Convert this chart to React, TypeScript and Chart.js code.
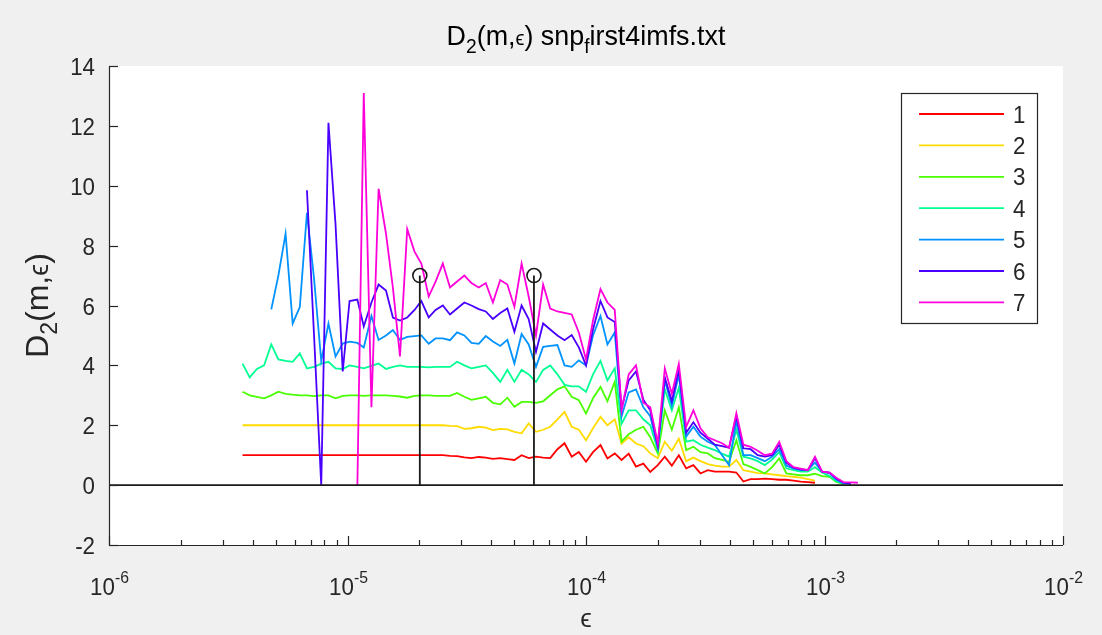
import React, { useEffect, useRef } from "react";
import { Chart, registerables } from "chart.js";

Chart.register(...registerables);

// Neighbourhood radius grid (epsilon), shared by every embedding dimension.
const EPSILON = [
  3.63e-6, 3.89e-6, 4.17e-6, 4.47e-6, 4.79e-6, 5.13e-6, 5.5e-6, 5.89e-6, 6.31e-6, 6.76e-6,
  7.24e-6, 7.76e-6, 8.32e-6, 8.91e-6, 9.55e-6, 1.02e-5, 1.1e-5, 1.17e-5, 1.26e-5, 1.35e-5,
  1.45e-5, 1.55e-5, 1.66e-5, 1.78e-5, 1.91e-5, 2.04e-5, 2.19e-5, 2.34e-5, 2.51e-5, 2.69e-5,
  2.88e-5, 3.09e-5, 3.31e-5, 3.55e-5, 3.8e-5, 4.07e-5, 4.37e-5, 4.68e-5, 5.01e-5, 5.37e-5,
  5.75e-5, 6.17e-5, 6.61e-5, 7.08e-5, 7.59e-5, 8.13e-5, 8.71e-5, 9.33e-5, 1.0e-4, 1.07e-4,
  1.15e-4, 1.23e-4, 1.32e-4, 1.41e-4, 1.51e-4, 1.62e-4, 1.74e-4, 1.86e-4, 2.0e-4, 2.14e-4,
  2.29e-4, 2.45e-4, 2.63e-4, 2.82e-4, 3.02e-4, 3.24e-4, 3.47e-4, 3.72e-4, 3.98e-4, 4.27e-4,
  4.57e-4, 4.9e-4, 5.25e-4, 5.62e-4, 6.03e-4, 6.46e-4, 6.92e-4, 7.41e-4, 7.94e-4, 8.51e-4,
  9.12e-4, 9.77e-4, 1.05e-3, 1.12e-3, 1.2e-3, 1.29e-3, 1.38e-3,
];

// Local slopes D2(m, eps) for m = 1..7 (null where no estimate exists).
const D2_M1 = [
  1, 1, 1, 1, 1, 1, 1, 1, 1, 1,
  1, 1, 1, 1, 1, 1, 1, 1, 1, 1,
  1, 1, 1, 1, 1, 1, 1, 1, 1, 0.98,
  0.97, 0.93, 0.9, 0.94, 0.92, 0.88, 0.9, 0.87, 0.84, 1.0,
  0.9, 0.95, 0.92, 0.9, 1.2, 1.4, 0.95, 1.11, 0.78, 1.1,
  1.34, 0.89, 1.06, 0.84, 1.05, 0.62, 0.72, 0.44, 0.67, 0.95,
  0.65, 1.0, 0.56, 0.67, 0.39, 0.5, 0.45, 0.45, 0.45, 0.42,
  0.12, 0.2, 0.2, 0.22, 0.2, 0.18, 0.18, 0.15, 0.12, 0.1,
  0.08, null, null, null, null, null, null,
];
const D2_M2 = [
  2, 2, 2, 2, 2, 2, 2, 2, 2, 2,
  2, 2, 2, 2, 2, 2, 2, 2, 2, 2,
  2, 2, 2, 2, 2, 2, 2, 2, 2, 1.98,
  1.97, 1.88, 1.9, 1.95, 1.92, 1.84, 1.88, 1.86, 1.78, 1.73,
  2.06, 1.78, 1.85, 1.95, 2.2, 2.45, 1.95, 1.85, 1.5, 1.9,
  2.28, 2.0, 2.2, 1.39, 1.6, 1.39, 1.3, 1.06, 0.9, 1.45,
  1.15, 1.55, 0.8, 0.92, 0.8, 0.7, 0.65, 0.62, 0.62, 0.84,
  0.5, 0.45, 0.4, 0.39, 0.36, 0.33, 0.3, 0.28, 0.25, 0.2,
  0.15, null, null, null, null, null, null,
];
const D2_M3 = [
  3.12, 3.0, 2.95, 2.9, 3.0, 3.12, 3.05, 3.02, 3.0, 3.0,
  2.97, 3.0, 3.0, 2.9, 2.98, 3.0, 3.0, 2.98, 3.0, 3.0,
  3.0, 2.98, 2.96, 2.92, 2.98, 3.0, 3.0, 2.98, 2.98, 2.98,
  3.08, 2.95, 2.85, 2.9, 2.95, 2.75, 2.7, 2.92, 2.62, 2.78,
  2.78, 2.75, 2.8, 3.0, 3.2, 3.3, 2.95, 2.84, 2.39, 2.9,
  3.28, 2.8, 3.45, 1.45, 1.7, 1.85, 1.95, 1.6, 1.06, 2.5,
  1.85, 2.6, 1.17, 1.28, 1.1, 1.06, 0.9, 0.84, 0.78, 1.5,
  0.7, 0.61, 0.5, 0.39, 0.6, 0.89, 0.39, 0.36, 0.33, 0.33,
  0.38, 0.3, 0.28, 0.11, 0.04, null, null,
];
const D2_M4 = [
  4.06, 3.6, 3.88, 4.0, 4.7, 4.2, 4.15, 4.12, 4.4, 3.9,
  3.95, 4.06, 4.12, 3.9, 3.88, 4.0, 3.95, 3.9, 3.98, 4.06,
  3.88, 3.95, 4.0, 3.95, 3.95, 3.95, 3.93, 3.95, 3.95, 3.95,
  4.12, 4.0, 3.9, 3.95, 4.0, 3.75, 3.45, 3.85, 3.45, 3.85,
  3.7, 3.45, 3.85, 4.0, 3.7, 3.35, 3.3, 3.3, 3.12, 3.7,
  4.15, 3.5, 3.9, 2.05, 2.5, 2.5, 2.2, 2.0, 1.17, 3.2,
  2.5, 3.25, 1.45, 1.5, 1.35, 1.25, 1.17, 1.05, 0.95, 1.85,
  0.95, 0.89, 0.8, 0.67, 0.85, 1.1, 0.56, 0.5, 0.45, 0.45,
  0.6, 0.42, 0.3, 0.13, 0.05, null, null,
];
const D2_M5 = [
  null, null, null, null, 5.87, 7.0, 8.4, 5.4, 5.95, 9.1,
  6.9, 4.15, 5.4, 4.3, 4.73, 4.79, 4.75, 4.6, 5.65, 4.85,
  5.0, 5.18, 4.85, 4.95, 4.98, 5.0, 4.72, 4.9, 4.9, 4.84,
  5.1, 5.0, 4.75, 4.72, 4.98, 4.8, 4.65, 4.85, 4.06, 5.05,
  4.7, 3.95, 4.62, 4.65, 4.68, 4.0, 3.95, 4.17, 4.0, 5.0,
  5.65, 4.7, 5.1, 2.3, 3.1, 3.2, 2.6, 2.3, 1.25, 3.5,
  2.65, 3.7, 1.62, 1.95, 1.62, 1.45, 1.34, 1.0, 0.67, 2.15,
  1.0, 1.0, 0.9, 0.8, 0.95, 1.2, 0.65, 0.55, 0.5, 0.5,
  0.75, 0.45, 0.4, 0.18, 0.06, 0.04, null,
];
const D2_M6 = [
  null, null, null, null, null, null, null, null, null, 9.85,
  5.0, 0.0, 12.1, 8.7, 3.8, 6.15, 6.2, 5.3, 6.1, 6.7,
  6.5, 5.6, 5.5, 5.6, 5.85, 6.15, 5.6, 5.85, 6.0, 5.7,
  5.9, 6.1, 6.0, 5.88, 5.8, 5.55, 5.75, 5.9, 5.12, 6.0,
  5.55, 4.45, 5.4, 5.2, 5.0, 4.84, 5.01, 4.6, 4.0, 5.2,
  6.15, 5.6, 5.45, 2.55, 3.5, 3.8, 2.85, 2.5, 1.3, 3.6,
  2.8, 3.85, 1.75, 2.1, 1.75, 1.55, 1.35, 1.3, 1.25, 2.3,
  1.23, 1.2, 1.0, 0.95, 1.0, 1.35, 0.75, 0.58, 0.53, 0.5,
  0.9, 0.45, 0.42, 0.22, 0.08, 0.06, null,
];
const D2_M7 = [
  null, null, null, null, null, null, null, null, null, null,
  null, null, null, null, null, null, 0.0, 13.1, 2.6, 9.9,
  8.4, 6.6, 4.3, 8.55, 7.8, 7.4, 6.3, 6.8, 7.4, 6.6,
  6.8, 7.0, 6.75, 6.6, 6.75, 6.1, 6.85, 6.7, 5.95, 7.4,
  6.3, 5.0, 6.7, 5.9, 5.8, 5.75, 5.7, 5.1, 4.2, 5.5,
  6.55, 6.1, 5.85, 2.5, 3.7, 4.0, 2.75, 2.6, 1.4, 3.9,
  3.05, 4.05, 1.95, 2.5, 1.9, 1.6, 1.5, 1.4, 1.25, 2.4,
  1.35, 1.28, 1.15, 1.0, 1.05, 1.45, 0.8, 0.6, 0.55, 0.5,
  0.95, 0.45, 0.42, 0.25, 0.1, 0.09, 0.08,
];

const SERIES = [D2_M1, D2_M2, D2_M3, D2_M4, D2_M5, D2_M6, D2_M7];
const SERIES_LABELS = ["1", "2", "3", "4", "5", "6", "7"];
const SERIES_COLORS = ["#FF0000", "#FFDB00", "#49FF00", "#00FF92", "#0092FF", "#4900FF", "#FF00DB"];

// Plateau estimates marked with stems.
const STEM_EPSILON = [2.01e-5, 6.05e-5];
const STEM_D2 = [7.0, 7.0];

const X_MIN = 1e-6;
const X_MAX = 1e-2;
const Y_MIN = -2;
const Y_MAX = 14;
const Y_TICKS = [-2, 0, 2, 4, 6, 8, 10, 12, 14];
const X_DECADES = [-6, -5, -4, -3, -2];

const FONT = '"Liberation Sans", Arial, Helvetica, sans-serif';
const INK = "#262626";

type Part = { text: string; size: number; shift?: number };

// Draws a run of text pieces (for sub/superscripts), optionally narrowed horizontally.
function drawParts(
  ctx: CanvasRenderingContext2D,
  parts: Part[],
  x: number,
  y: number,
  align: "left" | "center" | "right",
  sx = 1
) {
  const widths = parts.map((p) => {
    ctx.font = `${p.size}px ${FONT}`;
    return ctx.measureText(p.text).width * sx;
  });
  const total = widths.reduce((a, b) => a + b, 0);
  let cx = align === "center" ? x - total / 2 : align === "right" ? x - total : x;
  ctx.textAlign = "left";
  ctx.textBaseline = "alphabetic";
  parts.forEach((p, i) => {
    ctx.font = `${p.size}px ${FONT}`;
    ctx.save();
    ctx.translate(cx, y + (p.shift || 0));
    ctx.scale(sx, 1);
    ctx.fillText(p.text, 0, 0);
    ctx.restore();
    cx += widths[i];
  });
}

const axesPlugin = {
  id: "matlabAxes",
  beforeDraw(chart: any) {
    const { ctx, chartArea: a, width, height } = chart;
    ctx.save();
    ctx.fillStyle = "#F0F0F0";
    ctx.fillRect(0, 0, width, height);
    ctx.fillStyle = "#FFFFFF";
    ctx.fillRect(a.left, a.top, a.right - a.left, a.bottom - a.top);
    ctx.restore();
  },
  afterDraw(chart: any) {
    const { ctx, chartArea: a } = chart;
    const xs = chart.scales.x;
    const ys = chart.scales.y;
    ctx.save();
    ctx.strokeStyle = INK;
    ctx.fillStyle = INK;
    ctx.lineWidth = 1.2;

    // axis lines (box off: left and bottom only)
    ctx.beginPath();
    ctx.moveTo(a.left + 0.5, a.top);
    ctx.lineTo(a.left + 0.5, a.bottom + 0.5);
    ctx.lineTo(a.right, a.bottom + 0.5);
    ctx.stroke();

    // y ticks (inward) and labels
    Y_TICKS.forEach((v) => {
      const py = Math.round(ys.getPixelForValue(v)) + 0.5;
      ctx.beginPath();
      ctx.moveTo(a.left, py);
      ctx.lineTo(a.left + 9, py);
      ctx.stroke();
      drawParts(ctx, [{ text: String(v), size: 24 }], a.left - 14, py + 8.5, "right", 0.93);
    });

    // x ticks: decades and minor 2..9
    X_DECADES.forEach((d, k) => {
      const px = Math.round(xs.getPixelForValue(Math.pow(10, d))) + 0.5;
      ctx.beginPath();
      ctx.moveTo(px, a.bottom);
      ctx.lineTo(px, a.bottom - 9);
      ctx.stroke();
      drawParts(
        ctx,
        [
          { text: "10", size: 24 },
          { text: String(d), size: 17, shift: -12 },
        ],
        px,
        a.bottom + 50,
        "center",
        0.93
      );
      if (k < X_DECADES.length - 1) {
        for (let m = 2; m <= 9; m++) {
          const mx = Math.round(xs.getPixelForValue(m * Math.pow(10, d))) + 0.5;
          ctx.beginPath();
          ctx.moveTo(mx, a.bottom);
          ctx.lineTo(mx, a.bottom - 5);
          ctx.stroke();
        }
      }
    });

    // axis labels
    drawParts(ctx, [{ text: "\u03F5", size: 26 }], (a.left + a.right) / 2, 627, "center");
    ctx.save();
    ctx.translate(48, (a.top + a.bottom) / 2);
    ctx.rotate(-Math.PI / 2);
    drawParts(
      ctx,
      [
        { text: "D", size: 32 },
        { text: "2", size: 23, shift: 9 },
        { text: "(m,", size: 32 },
        { text: "\u03F5", size: 27 },
        { text: ")", size: 32 },
      ],
      0,
      0,
      "center"
    );
    ctx.restore();

    // title
    ctx.fillStyle = "#000000";
    drawParts(
      ctx,
      [
        { text: "D", size: 28 },
        { text: "2", size: 20, shift: 8 },
        { text: "(m,", size: 28 },
        { text: "\u03F5", size: 21 },
        { text: ") snp", size: 28 },
        { text: "f", size: 20, shift: 8 },
        { text: "irst4imfs.txt", size: 28 },
      ],
      (a.left + a.right) / 2,
      45,
      "center",
      0.96
    );

    // legend
    const lx = 901, ly = 93, lw = 136, lh = 230;
    ctx.fillStyle = "#FFFFFF";
    ctx.fillRect(lx, ly, lw, lh);
    ctx.strokeStyle = INK;
    ctx.lineWidth = 1.2;
    ctx.strokeRect(lx + 0.5, ly + 0.5, lw, lh);
    SERIES_LABELS.forEach((lab, i) => {
      const ry = 114 + i * 31.4;
      ctx.strokeStyle = SERIES_COLORS[i];
      ctx.lineWidth = 1.8;
      ctx.beginPath();
      ctx.moveTo(919, ry);
      ctx.lineTo(1004, ry);
      ctx.stroke();
      ctx.fillStyle = INK;
      drawParts(ctx, [{ text: lab, size: 24 }], 1013, ry + 8.5, "left", 0.93);
    });
    ctx.restore();
  },
};

export default function App() {
  const canvasRef = useRef<HTMLCanvasElement | null>(null);

  useEffect(() => {
    document.body.style.margin = "0";
    const canvas = canvasRef.current;
    if (!canvas) return;

    const seriesSets = SERIES.map((vals, i) => ({
      label: SERIES_LABELS[i],
      data: EPSILON.map((e, j) => ({ x: e, y: vals[j] })).filter((p) => p.y !== null),
      borderColor: SERIES_COLORS[i],
      borderWidth: 1.8,
      pointRadius: 0,
      tension: 0,
      fill: false,
      order: 10 - i,
    }));

    const stemSets = STEM_EPSILON.map((e, i) => ({
      label: `stem${i}`,
      data: [
        { x: e, y: 0 },
        { x: e, y: STEM_D2[i] },
      ],
      borderColor: "#1a1a1a",
      borderWidth: 1.8,
      pointRadius: [0, 7],
      pointBorderWidth: 1.6,
      pointBorderColor: "#1a1a1a",
      pointBackgroundColor: "rgba(0,0,0,0)",
      fill: false,
      order: 1,
    }));

    const zeroLine = {
      label: "zero",
      data: [
        { x: X_MIN, y: 0 },
        { x: X_MAX, y: 0 },
      ],
      borderColor: "#1a1a1a",
      borderWidth: 1.8,
      pointRadius: 0,
      fill: false,
      order: 0,
    };

    const chart = new Chart(canvas, {
      type: "line",
      data: { datasets: [...seriesSets, ...stemSets, zeroLine] as any },
      options: {
        animation: false,
        responsive: false,
        devicePixelRatio: 1,
        layout: { padding: { left: 109, right: 39, top: 66, bottom: 90 } },
        scales: {
          x: { type: "logarithmic", min: X_MIN, max: X_MAX, display: false },
          y: { type: "linear", min: Y_MIN, max: Y_MAX, display: false },
        },
        plugins: {
          legend: { display: false },
          tooltip: { enabled: false },
        },
        elements: { line: { tension: 0 } },
      },
      plugins: [axesPlugin],
    });

    return () => chart.destroy();
  }, []);

  return <canvas ref={canvasRef} width={1102} height={635} style={{ display: "block" }} />;
}
